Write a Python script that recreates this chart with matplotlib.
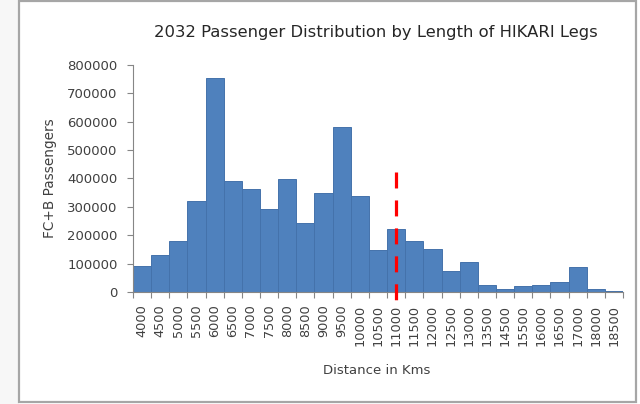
import numpy as np
import matplotlib
matplotlib.use("Agg")
import matplotlib.pyplot as plt
from matplotlib.patches import Rectangle

# distance buckets (km) and passengers per bucket
distances = ['4000', '4500', '5000', '5500', '6000', '6500', '7000', '7500', '8000',
             '8500', '9000', '9500', '10000', '10500', '11000', '11500', '12000',
             '12500', '13000', '13500', '14500', '15500', '16000', '16500', '17000',
             '18000', '18500']
passengers = [90000, 129000, 181000, 321000, 755000, 392000, 364000, 292000, 399000,
              244000, 349000, 580000, 338000, 147000, 223000, 178000, 151000,
              73000, 107000, 23000, 12000, 21000, 23000, 37000, 89000,
              12000, 5000]
cutoff_label = '11000'
cutoff_range = [422000, -27000]  # drawn top-down so the dashes start at the top

title = '2032 Passenger Distribution by Length of HIKARI Legs'
xlabel = 'Distance in Kms'
ylabel = 'FC+B Passengers'

txt = '#404040'
plt.rcParams['font.family'] = ['DejaVu Sans']

fig = plt.figure(figsize=(6.4, 4.04), dpi=100)
fig.patch.set_facecolor('white')

# light strip on the left and the chart border
fig.add_artist(Rectangle((0, 0), 19 / 640, 1, transform=fig.transFigure,
                         facecolor='#f7f7f7', edgecolor='none', zorder=0))
fig.add_artist(Rectangle((19 / 640, 2 / 404), 617 / 640, 401 / 404, transform=fig.transFigure,
                         facecolor='none', edgecolor='#a6a6a6', linewidth=1.6, zorder=5))

ax = fig.add_axes([133 / 640, 112 / 404, 490 / 640, 227 / 404])
x = np.arange(len(distances))
ax.bar(x, passengers, width=1.0, color='#4f81bd', edgecolor='#4472ab', linewidth=0.7, zorder=2)

xc = distances.index(cutoff_label)
ax.plot([xc, xc], cutoff_range, color='#ff0000', linewidth=2.3,
        linestyle=(0, (5.0, 3.75)), clip_on=False, zorder=3)

ax.set_xlim(-0.5, len(distances) - 0.5)
ax.set_ylim(0, 800000)
ax.set_yticks(np.arange(0, 800001, 100000))
ax.set_yticklabels([str(v) for v in range(0, 800001, 100000)], fontsize=9.5, color=txt)
ax.set_xticks(x)
ax.set_xticklabels(distances, rotation=90, fontsize=9.3, color=txt)
ax.set_xticks(np.arange(-0.5, len(distances)), minor=True)

ax.tick_params(axis='x', which='major', length=0, pad=9)
ax.tick_params(axis='x', which='minor', length=4, color='#868686', width=0.8)
ax.tick_params(axis='y', length=4, color='#868686', width=0.8, pad=7)

for side in ['top', 'right']:
    ax.spines[side].set_visible(False)
for side in ['left', 'bottom']:
    ax.spines[side].set_color('#868686')
    ax.spines[side].set_linewidth(0.8)

fig.text(376 / 640, 1 - 32 / 404, title, ha='center', va='center', fontsize=11.8, color='#262626')
fig.text(377 / 640, 1 - 370 / 404, xlabel, ha='center', va='center', fontsize=9.5, color=txt)
fig.text(50 / 640, 1 - 178 / 404, ylabel, ha='center', va='center', rotation=90,
         fontsize=9.8, color=txt)

fig.savefig('out.png', dpi=100)
